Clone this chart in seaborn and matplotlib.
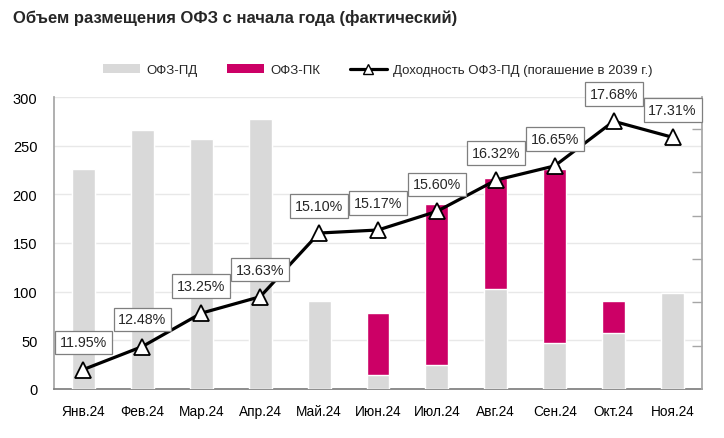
import numpy as np
import pandas as pd
import matplotlib
matplotlib.use("Agg")
import matplotlib.pyplot as plt
from matplotlib.patches import Patch
from matplotlib.lines import Line2D
import seaborn as sns

months = ["Янв.24", "Фев.24", "Мар.24", "Апр.24", "Май.24", "Июн.24",
          "Июл.24", "Авг.24", "Сен.24", "Окт.24", "Ноя.24"]
ofz_pd = [226, 266, 257, 277, 90, 14, 25, 103, 47, 58, 99]
ofz_pk = [0, 0, 0, 0, 0, 64, 165, 114, 179, 32, 0]
yields = [11.95, 12.48, 13.25, 13.63, 15.10, 15.17, 15.60, 16.32, 16.65, 17.68, 17.31]
yield_labels = ["11.95%", "12.48%", "13.25%", "13.63%", "15.10%", "15.17%",
                "15.60%", "16.32%", "16.65%", "17.68%", "17.31%"]

GRAY = "#d9d9d9"
MAGENTA = "#cc0066"

sns.set_theme(style="white")
plt.rcParams["font.family"] = ["Liberation Sans", "DejaVu Sans"]

df = pd.DataFrame({"month": months, "pd": ofz_pd, "pk": ofz_pk})
df["total"] = df["pd"] + df["pk"]

fig = plt.figure(figsize=(7.24, 4.39), dpi=100)
ax = fig.add_axes([54 / 724, 1 - 390 / 439, 648 / 724, 292 / 439])

sns.barplot(data=df, x="month", y="total", color=MAGENTA, saturation=1,
            width=0.39, ax=ax, zorder=2)
sns.barplot(data=df, x="month", y="pd", color=GRAY, saturation=1,
            width=0.39, ax=ax, zorder=3)

ax.set_ylim(0, 300)
ax.set_yticks(range(0, 301, 50))
ax.set_xlim(-0.5, len(months) - 0.5)
ax.set_xlabel("")
ax.set_ylabel("")
ax.grid(axis="y", color="#e8e8e8", linewidth=1, zorder=0)
ax.set_axisbelow(True)
for s in ["top", "right"]:
    ax.spines[s].set_visible(False)
ax.spines["left"].set_color("#a6a6a6")
ax.spines["bottom"].set_color("#7f7f7f")
ax.tick_params(axis="x", length=0, labelsize=9.8, colors="#000000", pad=11)
ax.tick_params(axis="y", length=0, labelsize=10.5, colors="#000000", pad=12)

ax2 = ax.twinx()
sns.lineplot(x=np.arange(len(months)), y=yields, ax=ax2, color="black",
             linewidth=2.3, marker="^", markersize=12, markerfacecolor="white",
             markeredgecolor="black", markeredgewidth=1.3, zorder=5)
ax2.set_ylim(11.5, 18.24)
ax2.set_yticks(np.arange(12.5, 18.0, 1.0))
ax2.set_yticklabels([])
ax2.tick_params(axis="y", direction="in", length=7, color="#a6a6a6", width=1)
for s in ["top", "left", "bottom"]:
    ax2.spines[s].set_visible(False)
ax2.spines["right"].set_color("#a6a6a6")
ax2.set_xlim(-0.5, len(months) - 0.5)

for i, (y, lab) in enumerate(zip(yields, yield_labels)):
    ax2.annotate(lab, (i, y), xytext=(0, 19.5), textcoords="offset points",
                 ha="center", va="center", fontsize=10.3, zorder=6,
                 bbox=dict(boxstyle="square,pad=0.33", fc="white", ec="#7f7f7f", lw=0.9))

handles = [
    Patch(facecolor=GRAY, edgecolor="none"),
    Patch(facecolor=MAGENTA, edgecolor="none"),
    Line2D([0], [0], color="black", linewidth=2.3, marker="^", markersize=7,
           markerfacecolor="white", markeredgecolor="black", markeredgewidth=1.0),
]
labels = ["ОФЗ-ПД", "ОФЗ-ПК", "Доходность ОФЗ-ПД (погашение в 2039 г.)"]
fig.legend(handles, labels, loc="center", bbox_to_anchor=(378 / 724, 1 - 71 / 439),
           ncol=3, frameon=False, fontsize=9.5, handlelength=2.8, handleheight=0.6,
           columnspacing=2.2, handletextpad=0.5)

fig.text(13 / 724, 1 - 18 / 439, "Объем размещения ОФЗ с начала года (фактический)",
         fontsize=12, fontweight="bold", ha="left", va="center",
         family=["Liberation Sans", "DejaVu Sans"])

fig.savefig("out.png", dpi=100)
